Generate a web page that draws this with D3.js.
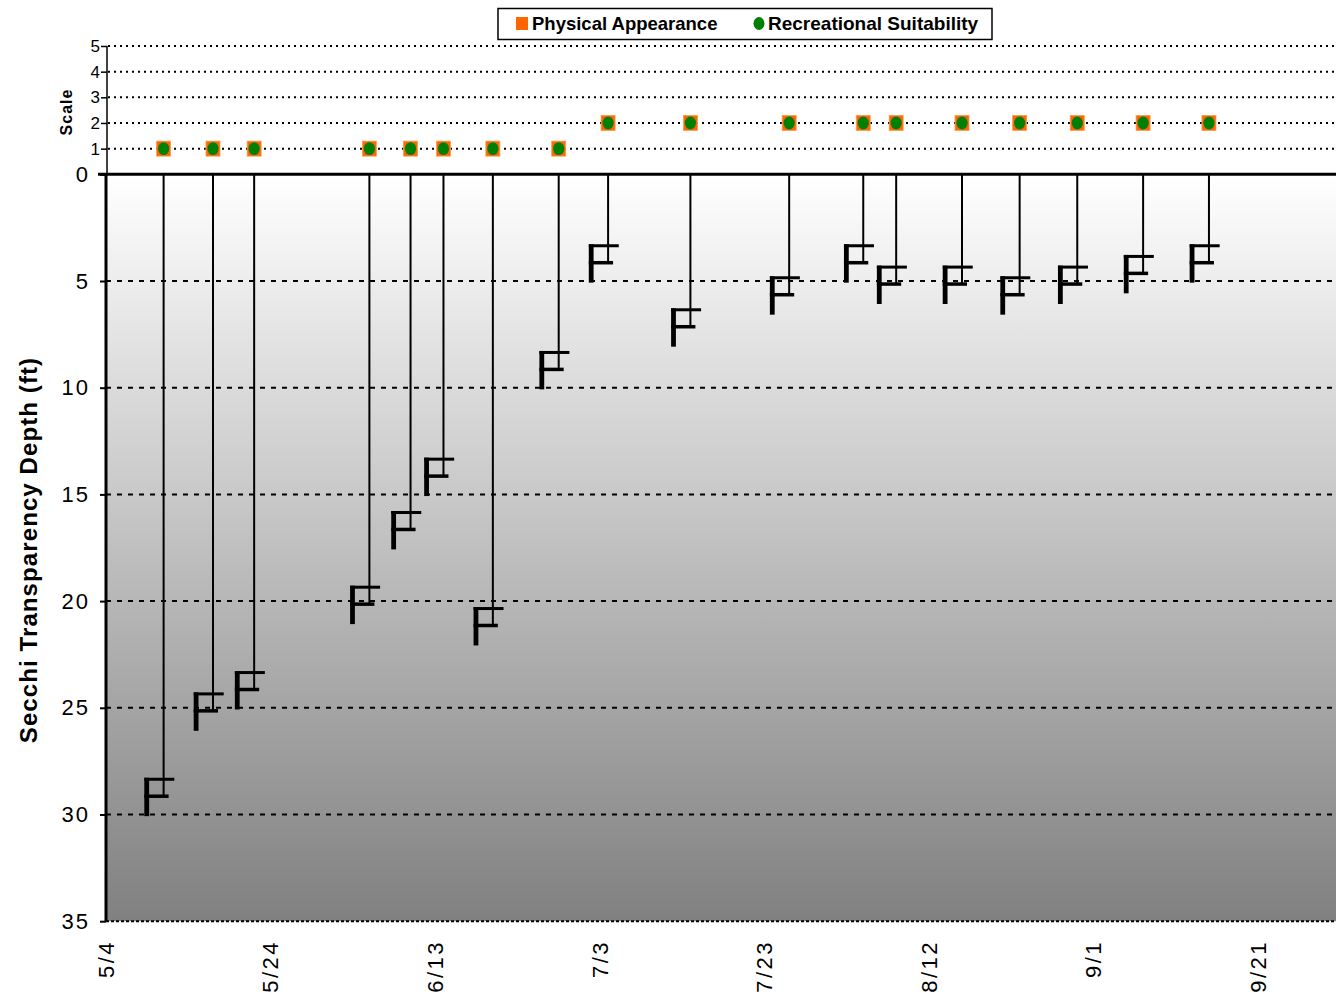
<!DOCTYPE html>
<html>
<head>
<meta charset="utf-8">
<script src="https://cdn.jsdelivr.net/npm/d3@7"></script>
<style>
  body { margin: 0; background: #fff; }
  svg { display: block; font-family: Arial, "Liberation Sans", sans-serif; }
</style>
</head>
<body>
<svg id="chart" width="1336" height="998"></svg>
<script>
// sample dates (all the same season)
const sampleDates = ["5/11", "5/17", "5/22", "6/5", "6/10", "6/14", "6/20", "6/28", "7/4",
    "7/14", "7/26", "8/4", "8/8", "8/16", "8/23", "8/30", "9/7", "9/15"];
const secchiDepth = [29, 25, 24, 20, 16.5, 14, 21, 9, 4, 7, 5.5, 4, 5, 5, 5.5, 5, 4.5, 4];
const physicalAppearance = [1, 1, 1, 1, 1, 1, 1, 1, 2, 2, 2, 2, 2, 2, 2, 2, 2, 2];
const recreationalSuitability = [1, 1, 1, 1, 1, 1, 1, 1, 2, 2, 2, 2, 2, 2, 2, 2, 2, 2];
const dateTicks = ["5/4", "5/24", "6/13", "7/3", "7/23", "8/12", "9/1", "9/21"];
const dateDomain = ["5/4", "10/1"];
const depthTicks = [0, 5, 10, 15, 20, 25, 30, 35];
const scaleTicks = [1, 2, 3, 4, 5];

var parse = d3.timeParse("%m/%d/%Y");
function toDate(s) { return parse(s + "/2010"); }

var svg = d3.select("#chart");
var left = 106, top0 = 174.3;

var x = d3.scaleTime()
    .domain(dateDomain.map(toDate))
    .range([left, left + 150 * 8.231]);
var yScale = d3.scaleLinear().domain([0, 5]).range([top0, 46]);
var yDepth = d3.scaleLinear().domain([0, 35]).range([top0, 921.2]);
var right = 1340;

// gradient background of the depth panel
var grad = svg.append("defs").append("linearGradient")
    .attr("id", "water").attr("x1", 0).attr("y1", 0).attr("x2", 0).attr("y2", 1);
grad.append("stop").attr("offset", "0%").attr("stop-color", "#ffffff");
grad.append("stop").attr("offset", "100%").attr("stop-color", "#808080");

svg.append("rect")
    .attr("x", left).attr("y", yDepth(0))
    .attr("width", right - left).attr("height", yDepth(35) - yDepth(0))
    .attr("fill", "url(#water)");

// top panel dotted grid
svg.selectAll("line.sgrid").data(scaleTicks).enter().append("line")
    .attr("class", "sgrid")
    .attr("x1", left + 2).attr("x2", right)
    .attr("y1", function(d) { return yScale(d); })
    .attr("y2", function(d) { return yScale(d); })
    .attr("stroke", "#000").attr("stroke-width", 2)
    .attr("stroke-dasharray", "2,4");

// depth grid (dashed)
svg.selectAll("line.dgrid").data(depthTicks.slice(1)).enter().append("line")
    .attr("class", "dgrid")
    .attr("x1", left).attr("x2", right)
    .attr("y1", function(d) { return yDepth(d); })
    .attr("y2", function(d) { return yDepth(d); })
    .attr("stroke", "#000").attr("stroke-width", 2)
    .attr("stroke-dasharray", function(d) { return d == 35 ? "3,2" : "5,6"; });

// top panel axis
var scaleAxis = svg.append("g")
    .attr("transform", "translate(" + (left + 1) + ",0)")
    .call(d3.axisLeft(yScale).tickValues(scaleTicks).tickFormat(d3.format("d")).tickSize(6).tickPadding(1));
scaleAxis.select(".domain").attr("stroke-width", 1.5).attr("d", "M0," + yScale(5) + "V" + yScale(0));
scaleAxis.selectAll(".tick line").attr("stroke-width", 1.5);
scaleAxis.selectAll("text").attr("font-size", 17).attr("fill", "#000");

// depth axis
var depthAxis = svg.append("g")
    .attr("transform", "translate(" + left + ",0)")
    .call(d3.axisLeft(yDepth).tickValues(depthTicks).tickSize(6).tickPadding(10));
depthAxis.select(".domain").attr("stroke-width", 3).attr("d", "M0," + yDepth(0) + "V" + yDepth(35));
depthAxis.selectAll(".tick line").attr("stroke-width", 2);
depthAxis.selectAll("text").attr("font-size", 22).attr("letter-spacing", 2).attr("fill", "#000");

// zero line
svg.append("line")
    .attr("x1", left - 8).attr("x2", right)
    .attr("y1", yDepth(0)).attr("y2", yDepth(0))
    .attr("stroke", "#000").attr("stroke-width", 3);

// date labels
svg.selectAll("text.date").data(dateTicks).enter().append("text")
    .attr("class", "date")
    .attr("transform", function(d) { return "translate(" + x(toDate(d)) + ",940) rotate(-90)"; })
    .attr("text-anchor", "end")
    .attr("dy", "0.35em")
    .attr("font-size", 22)
    .attr("letter-spacing", 2.5)
    .text(function(d) { return d; });

// secchi lines and disk markers
var pts = sampleDates.map(function(d, i) {
    return {date: toDate(d), depth: secchiDepth[i], phys: physicalAppearance[i], rec: recreationalSuitability[i]};
});

svg.selectAll("line.drop").data(pts).enter().append("line")
    .attr("class", "drop")
    .attr("x1", function(d) { return x(d.date); })
    .attr("x2", function(d) { return x(d.date); })
    .attr("y1", yDepth(0))
    .attr("y2", function(d) { return yDepth(d.depth) + 2; })
    .attr("stroke", "#000").attr("stroke-width", 2);

var disk = svg.selectAll("g.disk").data(pts).enter().append("g")
    .attr("class", "disk")
    .attr("transform", function(d) { return "translate(" + x(d.date) + "," + yDepth(d.depth) + ")"; });
disk.append("rect").attr("x", -19.3).attr("y", -15.4).attr("width", 4.8).attr("height", 38.4).attr("fill", "#000");
disk.append("rect").attr("x", -19.3).attr("y", -15.4).attr("width", 30).attr("height", 3).attr("fill", "#000");
disk.append("rect").attr("x", -19.3).attr("y", 1.3).attr("width", 24.3).attr("height", 3.5).attr("fill", "#000");

// scale markers
svg.selectAll("rect.phys").data(pts).enter().append("rect")
    .attr("class", "phys")
    .attr("x", function(d) { return x(d.date) - 7; })
    .attr("y", function(d) { return yScale(d.phys) - 7.5; })
    .attr("width", 14).attr("height", 15)
    .attr("fill", "#ff6600").attr("stroke", "#ff9a50").attr("stroke-width", 0.8);
svg.selectAll("ellipse.rec").data(pts).enter().append("ellipse")
    .attr("class", "rec")
    .attr("cx", function(d) { return x(d.date); })
    .attr("cy", function(d) { return yScale(d.rec); })
    .attr("rx", 5.6).attr("ry", 6.4)
    .attr("fill", "#008000");

// axis titles
svg.append("text")
    .attr("transform", "translate(72,112) rotate(-90)")
    .attr("text-anchor", "middle")
    .attr("font-size", 16).attr("font-weight", "bold").attr("letter-spacing", 1)
    .text("Scale");
svg.append("text")
    .attr("transform", "translate(37,550) rotate(-90)")
    .attr("text-anchor", "middle")
    .attr("font-size", 24).attr("font-weight", "bold").attr("letter-spacing", 1.1)
    .text("Secchi Transparency Depth (ft)");

// legend
var legend = svg.append("g");
legend.append("rect")
    .attr("x", 498).attr("y", 8.5).attr("width", 494).attr("height", 31)
    .attr("fill", "#fff").attr("stroke", "#000").attr("stroke-width", 1.5);
legend.append("rect")
    .attr("x", 516).attr("y", 17).attr("width", 12).attr("height", 13)
    .attr("fill", "#ff6600");
legend.append("text")
    .attr("x", 532).attr("y", 30)
    .attr("font-size", 18.5).attr("font-weight", "bold")
    .text("Physical Appearance");
legend.append("ellipse")
    .attr("cx", 759).attr("cy", 23.5).attr("rx", 5.5).attr("ry", 6.5)
    .attr("fill", "#008000");
legend.append("text")
    .attr("x", 768).attr("y", 30)
    .attr("font-size", 19).attr("font-weight", "bold")
    .text("Recreational Suitability");
</script>
</body>
</html>
